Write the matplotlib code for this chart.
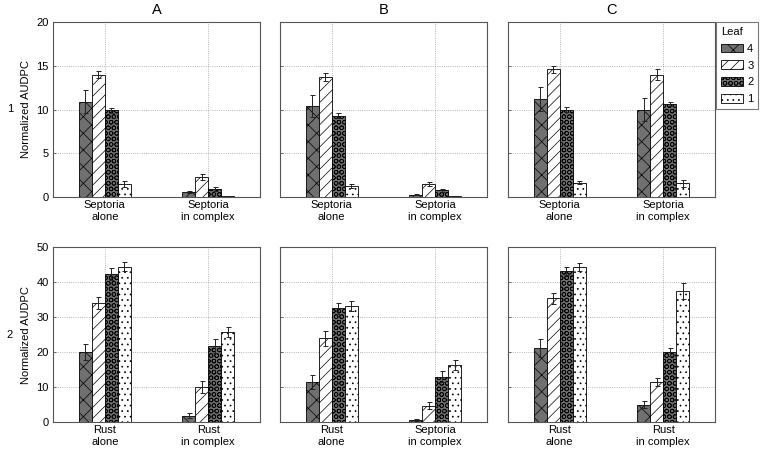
import matplotlib
matplotlib.use("Agg")
import matplotlib.pyplot as plt
import numpy as np

plt.rcParams['font.family'] = ['Liberation Sans', 'DejaVu Sans']
plt.rcParams['hatch.linewidth'] = 0.5

leaves = ['4', '3', '2', '1']
col_titles = ['A', 'B', 'C']
row_labels = ['1', '2']

# categories per panel [row][col]
cats = [
    [["Septoria\nalone", "Septoria\nin complex"],
     ["Septoria\nalone", "Septoria\nin complex"],
     ["Septoria\nalone", "Septoria\nin complex"]],
    [["Rust\nalone", "Rust\nin complex"],
     ["Rust\nalone", "Septoria\nin complex"],
     ["Rust\nalone", "Rust\nin complex"]],
]

# values[row][col][category] -> leaf 4,3,2,1
vals_1A = [[10.9, 14.0, 9.9, 1.5], [0.6, 2.3, 0.9, 0.1]]
errs_1A = [[1.3, 0.4, 0.25, 0.3], [0.12, 0.3, 0.2, 0.04]]
vals_1B = [[10.4, 13.7, 9.3, 1.25], [0.25, 1.5, 0.75, 0.1]]
errs_1B = [[1.25, 0.45, 0.3, 0.2], [0.05, 0.25, 0.15, 0.03]]
vals_1C = [[11.2, 14.6, 10.0, 1.65], [10.0, 14.0, 10.6, 1.55]]
errs_1C = [[1.4, 0.4, 0.3, 0.2], [1.3, 0.65, 0.25, 0.35]]

vals_2A = [[20.1, 33.9, 42.3, 44.4], [1.8, 10.0, 21.7, 25.7]]
errs_2A = [[2.3, 1.7, 1.6, 1.3], [0.7, 1.6, 2.1, 1.4]]
vals_2B = [[11.3, 23.9, 32.5, 33.2], [0.6, 4.6, 12.9, 16.4]]
errs_2B = [[2.0, 2.1, 1.6, 1.4], [0.2, 1.0, 1.6, 1.4]]
vals_2C = [[21.2, 35.3, 43.1, 44.3], [5.0, 11.4, 20.0, 37.4]]
errs_2C = [[2.6, 1.7, 1.2, 1.1], [0.9, 1.1, 1.2, 2.3]]

vals = [[vals_1A, vals_1B, vals_1C], [vals_2A, vals_2B, vals_2C]]
errs = [[errs_1A, errs_1B, errs_1C], [errs_2A, errs_2B, errs_2C]]

ylims = [20, 50]
yticks = [[0, 5, 10, 15, 20], [0, 10, 20, 30, 40, 50]]

faces = ['#707070', 'white', '#707070', 'white']
hatches = ['xx', '///', 'OOO', '...']

W, H = 762, 449
fig = plt.figure(figsize=(W / 100, H / 100), dpi=100)

lefts = [53, 280, 508]
aw = 207
rows_y = [(22, 197), (247, 422)]
FS = 8

bw = 0.126
for r in range(2):
    for c in range(3):
        top, bot = rows_y[r]
        ax = fig.add_axes([lefts[c] / W, 1 - bot / H, aw / W, (bot - top) / H])
        x = np.arange(1, 3)
        for i in range(4):
            v = [vals[r][c][k][i] for k in range(2)]
            e = [errs[r][c][k][i] for k in range(2)]
            pos = x + (i - 1.5) * bw
            ax.bar(pos, v, width=bw, color=faces[i], edgecolor='black',
                   hatch=hatches[i], linewidth=0.6, label=leaves[i], zorder=3)
            ax.errorbar(pos, v, yerr=e, fmt='none', ecolor='#222222',
                        elinewidth=0.7, capsize=1.8, capthick=0.7, zorder=4)
        ax.set_xlim(0.5, 2.5)
        ax.set_ylim(0, ylims[r])
        ax.set_xticks(x)
        ax.set_xticklabels(cats[r][c], fontsize=FS, linespacing=1.3)
        ax.set_yticks(yticks[r])
        ax.grid(True, linestyle=':', color='#a0a0a0', linewidth=0.6, zorder=0)
        ax.set_axisbelow(True)
        ax.tick_params(direction='in', length=2.5, width=0.6, labelsize=FS,
                       color='#555555')
        ax.tick_params(axis='x', pad=2)
        ax.tick_params(axis='y', pad=3)
        for s in ax.spines.values():
            s.set_color('#555555')
            s.set_linewidth(0.8)
        if c == 0:
            ax.set_ylabel('Normalized AUDPC', fontsize=FS, labelpad=4)
        else:
            ax.set_yticklabels([])
        if r == 0:
            ax.set_title(col_titles[c], fontsize=10.5, pad=6)
        if r == 0 and c == 2:
            handles, labels = ax.get_legend_handles_labels()

for r in range(2):
    top, bot = rows_y[r]
    fig.text(10 / W, 1 - ((top + bot) / 2) / H, row_labels[r], fontsize=FS,
             ha='center', va='center')

leg = fig.legend(handles, labels, title='Leaf', loc='upper left',
                 bbox_to_anchor=(716 / W, 1 - 22 / H), fontsize=FS,
                 title_fontsize=FS, frameon=True, fancybox=False,
                 handlelength=2.0, handleheight=0.8, handletextpad=0.35,
                 borderpad=0.45, labelspacing=0.6, borderaxespad=0)
leg._legend_box.align = 'left'
leg.get_frame().set_edgecolor('#555555')
leg.get_frame().set_linewidth(0.8)

fig.savefig('out.png', dpi=100)
